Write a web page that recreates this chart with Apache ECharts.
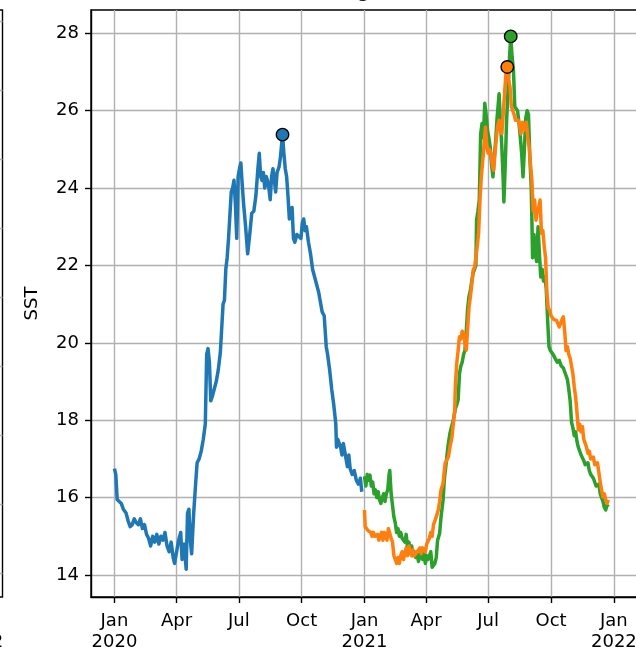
<!DOCTYPE html>
<html><head><meta charset="utf-8">
<script src="https://cdn.jsdelivr.net/npm/echarts@6/dist/echarts.min.js"></script>
<style>html,body{margin:0;padding:0;background:#fff}#c{width:636px;height:653px}</style>
</head><body><div id="c"></div>
<script>
// x values are days since 2020-01-01
const xTickDays = [0, 91, 182, 274, 366, 456, 547, 639, 731];
const xTickLabels = ['Jan\n2020', 'Apr', 'Jul', 'Oct', 'Jan\n2021', 'Apr', 'Jul', 'Oct', 'Jan\n2022'];
const yTicks = [14, 16, 18, 20, 22, 24, 26, 28];

const sst2020 = [[0,16.75],[2,16.6],[4,15.95],[7,15.9],[10,15.85],[13,15.7],[17,15.6],[20,15.4],[23,15.25],[26,15.3],[29,15.45],[32,15.35],[35,15.3],[38,15.45],[41,15.2],[44,15.3],[47,15.05],[50,14.95],[53,14.75],[56,15.0],[59,14.85],[62,15.05],[65,14.8],[68,15.0],[71,14.9],[74,15.1],[77,14.75],[80,14.6],[83,14.85],[86,14.45],[88,14.3],[91,14.6],[94,14.9],[97,15.1],[99,14.4],[102,14.8],[105,14.15],[107,15.6],[109,15.7],[111,14.9],[113,14.55],[116,15.6],[119,16.4],[121,16.9],[124,17.0],[127,17.2],[130,17.5],[133,17.9],[135,19.7],[137,19.85],[139,19.5],[141,18.5],[143,18.6],[146,18.8],[149,19.0],[152,19.3],[155,19.75],[157,19.8],[159,21.0],[161,21.1],[163,21.9],[165,22.2],[167,22.7],[169,23.3],[171,23.9],[173,24.0],[175,24.2],[177,23.6],[179,22.7],[181,24.3],[183,24.5],[185,24.65],[187,24.1],[189,23.6],[192,23.0],[195,22.3],[198,22.8],[201,23.35],[204,23.4],[207,23.8],[210,24.5],[212,24.9],[214,24.3],[216,24.2],[218,24.4],[220,24.0],[222,24.3],[224,24.2],[226,24.0],[228,23.7],[230,24.3],[232,24.5],[234,24.2],[236,23.9],[238,24.4],[241,24.55],[243,24.8],[246,25.38],[248,24.9],[250,24.5],[252,24.3],[254,23.8],[256,23.2],[258,23.3],[260,23.5],[262,22.7],[264,22.6],[267,22.8],[270,22.75],[273,22.7],[275,23.1],[277,23.2],[279,22.9],[281,23.0],[284,22.6],[287,22.3],[290,21.9],[293,21.7],[296,21.5],[299,21.3],[301,21.1],[304,20.8],[307,20.7],[310,19.9],[312,19.7],[315,19.3],[318,18.8],[321,18.4],[324,17.9],[325,17.3],[327,17.5],[329,17.4],[331,17.3],[333,17.1],[335,17.4],[337,17.2],[339,17.0],[341,16.8],[343,17.1],[345,16.75],[348,16.6],[351,16.7],[354,16.45],[357,16.35],[360,16.5],[362,16.15]];

const sst2021a = [[366,16.55],[368,16.3],[370,16.6],[372,16.45],[374,16.58],[376,16.3],[378,16.4],[380,16.1],[382,16.2],[384,16.0],[386,16.15],[388,15.94],[390,15.85],[392,16.0],[394,16.1],[396,15.9],[398,16.1],[400,16.2],[402,16.6],[403,16.7],[405,16.1],[407,15.8],[409,15.5],[411,15.35],[413,15.1],[415,15.2],[417,15.0],[419,15.1],[421,14.95],[423,15.0],[425,14.85],[427,15.05],[429,14.7],[431,14.85],[433,14.6],[435,14.75],[437,14.5],[439,14.6],[441,14.45],[443,14.55],[445,14.35],[447,14.5],[449,14.6],[451,14.4],[453,14.55],[455,14.3],[457,14.5],[459,14.4],[461,14.35],[463,14.6],[465,14.2],[467,14.15],[469,14.3],[471,14.45],[473,14.9],[476,15.08],[478,15.5],[481,15.94],[483,16.5],[486,16.97],[488,17.3],[491,17.66],[493,17.8],[496,18.0],[499,18.3],[501,18.4],[503,18.52],[505,19.2],[507,19.4],[509,19.5],[511,19.7],[513,19.8],[515,20.3],[517,20.9],[519,21.2],[521,21.36],[523,21.6],[525,21.8],[527,21.9],[529,22.0],[530,23.17],[532,23.4],[534,23.69],[536,25.4],[538,25.67],[540,25.3],[542,26.19],[544,25.9],[546,25.5],[548,25.3],[550,25.06],[552,24.6],[554,24.29],[556,24.8],[558,25.23],[560,25.8],[563,26.44],[565,25.7],[567,25.06],[569,24.2],[570,23.64],[572,24.6],[574,25.75],[576,26.5],[578,27.3],[580,27.92],[582,27.4],[584,27.04],[586,26.1],[588,26.15],[590,26.0],[592,25.7],[594,25.32],[596,24.9],[598,24.29],[600,25.0],[602,25.8],[604,26.0],[606,25.9],[608,24.8],[610,24.03],[611,23.17],[612,22.2],[614,22.8],[616,22.3],[618,22.1],[620,23.0],[622,22.3],[624,21.7],[626,21.9],[628,21.6],[630,21.7],[632,21.4],[634,20.6],[636,19.9],[638,19.8],[640,19.75],[642,19.7],[645,19.6],[648,19.5],[651,19.55],[654,19.4],[657,19.35],[660,19.2],[663,19.05],[665,18.8],[667,18.5],[669,17.95],[671,17.8],[673,17.6],[675,17.7],[677,17.45],[679,17.3],[681,17.35],[683,17.1],[685,17.15],[687,16.95],[689,16.85],[691,16.8],[693,16.9],[695,16.7],[697,16.6],[699,16.65],[701,16.5],[703,16.55],[705,16.3],[707,16.25],[709,16.35],[711,16.1],[713,16.0],[715,15.9],[717,15.75],[719,15.68],[721,15.8],[723,15.76]];

const sst2021b = [[366,15.68],[367,15.25],[369,15.3],[371,15.15],[373,15.2],[375,15.1],[377,15.0],[379,15.1],[381,15.0],[383,14.95],[385,15.05],[387,14.9],[389,15.0],[391,15.1],[393,14.9],[395,15.1],[397,15.0],[399,14.9],[401,15.2],[403,15.25],[405,14.95],[407,14.85],[409,14.5],[411,14.4],[413,14.3],[415,14.45],[417,14.3],[419,14.5],[421,14.6],[423,14.4],[425,14.55],[427,14.7],[429,14.5],[431,14.75],[433,14.6],[435,14.5],[437,14.65],[439,14.5],[441,14.45],[443,14.6],[445,14.55],[447,14.7],[449,14.55],[451,14.7],[453,14.75],[455,14.6],[457,14.8],[459,14.85],[461,14.95],[463,15.1],[465,15.0],[467,15.3],[469,15.4],[471,15.5],[474,15.68],[476,15.9],[478,16.2],[481,16.37],[484,16.89],[486,16.95],[489,17.06],[491,17.3],[494,17.57],[496,17.9],[498,18.26],[499,18.9],[501,19.47],[503,19.8],[505,20.16],[507,20.1],[509,20.3],[511,20.24],[513,20.0],[515,19.81],[517,20.4],[519,20.93],[521,21.2],[523,21.5],[525,21.88],[527,21.95],[529,22.2],[531,22.5],[533,22.83],[535,23.69],[537,24.3],[540,24.89],[543,25.58],[545,25.1],[547,24.9],[549,25.0],[551,24.9],[553,24.6],[555,24.46],[557,24.9],[559,25.3],[561,25.6],[563,25.75],[565,25.5],[567,25.41],[569,25.9],[571,26.44],[573,26.96],[575,27.13],[577,26.8],[579,26.61],[581,26.1],[583,26.0],[585,25.9],[587,25.75],[589,25.7],[591,25.75],[593,25.6],[595,25.4],[597,25.7],[599,25.75],[601,25.5],[603,25.7],[605,25.3],[607,25.06],[609,24.6],[611,24.2],[613,23.4],[615,23.69],[617,23.17],[619,23.4],[621,23.5],[623,23.69],[625,22.83],[627,22.9],[629,22.5],[631,22.2],[633,21.28],[635,20.9],[637,20.84],[639,20.7],[641,20.67],[643,20.6],[645,20.65],[647,20.58],[649,20.5],[651,20.41],[653,20.5],[655,20.6],[657,20.67],[659,20.3],[661,19.8],[663,19.9],[665,19.7],[667,19.6],[669,19.64],[671,19.2],[673,18.86],[675,18.6],[677,18.2],[679,17.75],[681,17.9],[683,17.7],[685,17.83],[687,17.5],[689,17.4],[691,17.3],[693,17.14],[695,17.2],[697,17.0],[699,16.97],[701,17.05],[703,16.85],[705,16.8],[707,16.9],[709,16.65],[711,16.4],[713,16.2],[715,16.02],[717,16.1],[719,15.95],[721,15.85],[723,15.94]];

// neighbouring panel (only its right edge is in view)
const leftPanelGrid = [0, 1, 2, 3, 4, 5, 6, 7, 8];

const colors = {a: '#1f77b4', b: '#ff7f0e', c: '#2ca02c'};

function maxPoint(arr) {
  let best = arr[0];
  arr.forEach(p => { if (p[1] > best[1]) best = p; });
  return best;
}

const FONT = 'DejaVu Sans';
const FS = 18;
const chart = echarts.init(document.getElementById('c'), null, {renderer: 'canvas'});

function lineSeries(data, color, z) {
  return {
    type: 'line', data: data, xAxisIndex: 0, yAxisIndex: 0,
    showSymbol: false, symbol: 'none', z: z,
    lineStyle: {color: color, width: 3.5, join: 'round', cap: 'butt'},
    emphasis: {disabled: true}
  };
}
function peakSeries(data, color) {
  return {
    type: 'scatter', data: [maxPoint(data)], xAxisIndex: 0, yAxisIndex: 0,
    symbol: 'circle', symbolSize: 12.5, z: 10,
    itemStyle: {color: color, borderColor: '#000', borderWidth: 1.4, opacity: 1},
    emphasis: {disabled: true}
  };
}

const option = {
  animation: false,
  backgroundColor: '#fff',
  textStyle: {fontFamily: FONT},
  graphic: [{
    type: 'text', left: 357, top: -19,
    style: {text: 'g', font: '21px "DejaVu Sans"', fill: '#000'}
  }],
  grid: [
    {left: 91, top: 10, width: 546.8, height: 587, show: true, borderColor: '#000', borderWidth: 1.4,
     backgroundColor: 'transparent', outerBoundsMode: 'none', containLabel: false},
    {left: -300, top: 10, width: 302.5, height: 587, show: true, borderColor: '#000', borderWidth: 1.4,
     backgroundColor: 'transparent', outerBoundsMode: 'none', containLabel: false}
  ],
  xAxis: [{
    type: 'value', gridIndex: 0, min: -34.3, max: 766,
    axisLine: {show: true, onZero: false, lineStyle: {color: '#000', width: 1.4}},
    axisTick: {show: true, customValues: xTickDays, length: 6, lineStyle: {color: '#000', width: 1.4}},
    axisLabel: {
      customValues: xTickDays, margin: 14, color: '#000', fontSize: FS, fontFamily: FONT, lineHeight: 21,
      formatter: v => { const i = xTickDays.indexOf(v); return i >= 0 ? xTickLabels[i] : ''; }
    },
    splitLine: {show: true, lineStyle: {color: '#b0b0b0', width: 1.4}}
  }, {
    type: 'value', gridIndex: 1, min: 0, max: 100,
    axisLine: {show: false, onZero: false}, axisTick: {show: false},
    axisLabel: {customValues: [92.7], margin: 14, color: '#000', fontSize: FS, fontFamily: FONT, lineHeight: 21,
      formatter: () => 'Jan\n2022'},
    splitLine: {show: false}
  }],
  yAxis: [{
    type: 'value', gridIndex: 0, min: 13.431, max: 28.602,
    name: 'SST', nameLocation: 'middle', nameGap: 50, nameRotate: 90,
    nameTextStyle: {color: '#000', fontSize: FS, fontFamily: FONT},
    axisLine: {show: true, onZero: false, lineStyle: {color: '#000', width: 1.4}},
    axisTick: {show: true, customValues: yTicks, length: 6, lineStyle: {color: '#000', width: 1.4}},
    axisLabel: {customValues: yTicks, margin: 12, color: '#000', fontSize: FS, fontFamily: FONT},
    splitLine: {show: true, lineStyle: {color: '#b0b0b0', width: 1.4}}
  }, {
    type: 'value', gridIndex: 1, min: -0.348, max: 8.159,
    axisLine: {show: false, onZero: false}, axisLabel: {show: false},
    axisTick: {show: false, customValues: leftPanelGrid},
    splitLine: {show: true, lineStyle: {color: '#b0b0b0', width: 1.4}}
  }],
  series: [
    lineSeries(sst2020, colors.a, 2),
    lineSeries(sst2021a, colors.c, 3),
    lineSeries(sst2021b, colors.b, 4),
    peakSeries(sst2020, colors.a),
    peakSeries(sst2021a, colors.c),
    peakSeries(sst2021b, colors.b)
  ]
};
chart.setOption(option);
</script>
</body></html>
